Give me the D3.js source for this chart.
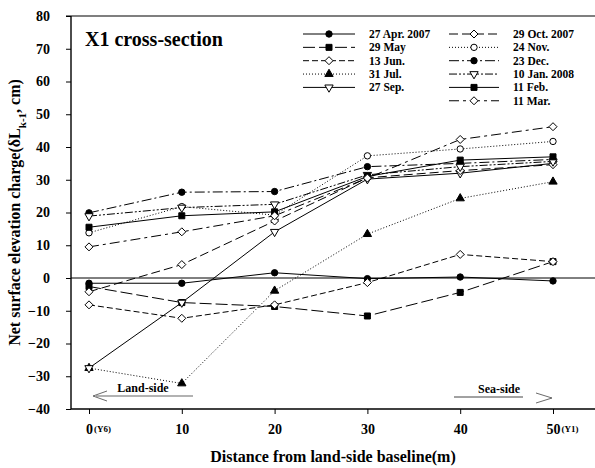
<!DOCTYPE html>
<html>
<head>
<meta charset="utf-8">
<script src="https://cdn.jsdelivr.net/npm/d3@7"></script>
<style>
  body { margin: 0; background: #fff; }
  svg { display: block; }
  text { font-family: "Liberation Serif", "Times New Roman", serif; font-weight: bold; fill: #000; }
</style>
</head>
<body>
<div id="chart"></div>
<script>
// distances along the X1 cross-section (m)
const distances = [0, 10, 20, 30, 40, 50];
const yTicks = [-40, -30, -20, -10, 0, 10, 20, 30, 40, 50, 60, 70, 80];

// net surface elevation change (cm), one array per survey date
const apr27 = [-1.6, -1.6, 1.6, -0.2, 0.3, -0.9];
const may29 = [-2.6, -7.5, -8.7, -11.6, -4.4, 5.0];
const jun13 = [-8.2, -12.3, -8.2, -1.4, 7.2, 5.0];
const jul31 = [-27.5, -32.2, -3.9, 13.4, 24.3, 29.4];
const sep27 = [-27.5, -7.5, 14.1, 30.2, 32.0, 35.0];
const oct29 = [-4.2, 4.1, 17.4, 30.6, 32.8, 34.6];
const nov24 = [13.8, 21.8, 19.2, 37.3, 39.4, 41.7];
const dec23 = [19.9, 26.2, 26.4, 34.0, 35.0, 36.2];
const jan10 = [18.9, 21.5, 22.5, 31.5, 34.0, 35.6];
const feb11 = [15.5, 19.0, 20.2, 31.0, 36.0, 37.0];
const mar11 = [9.5, 14.1, 19.0, 30.5, 42.3, 46.2];

const dateLabels = ["27 Apr. 2007", "29 May", "13 Jun.", "31 Jul.", "27 Sep.",
  "29 Oct. 2007", "24 Nov.", "23 Dec.", "10 Jan. 2008", "11 Feb.", "11 Mar."];
const seriesValues = [apr27, may29, jun13, jul31, sep27, oct29, nov24, dec23, jan10, feb11, mar11];

// line dash + marker for each date (legend order)
const styles = [
  { dash: null, mark: "circle", fill: true },
  { dash: "12,4", mark: "square", fill: true },
  { dash: "6,3", mark: "diamond", fill: false },
  { dash: "1,2", mark: "triangle", fill: true },
  { dash: null, mark: "tridown", fill: false },
  { dash: "9,4", mark: "diamond", fill: false },
  { dash: "1,2", mark: "circle", fill: false },
  { dash: "10,3,2,3", mark: "circle", fill: true },
  { dash: "8,2,2,2,2,2", mark: "tridown", fill: false },
  { dash: null, mark: "square", fill: true },
  { dash: "10,4,3,4", mark: "diamond", fill: false }
];

const W = 595, H = 468;
const plotLeft = 71, plotRight = 595, plotTop = 16, plotBottom = 409;

const svg = d3.select("#chart").append("svg").attr("width", W).attr("height", H);

const x = d3.scaleLinear().domain([0, 50]).range([89, 553]);
const y = d3.scaleLinear().domain([-40, 80]).range([plotBottom, plotTop]);

// square diamond (equal diagonals), like the original plot's marker
const squareDiamond = {
  draw: function (ctx, size) {
    var r = Math.sqrt(size / 2);
    ctx.moveTo(0, -r); ctx.lineTo(r, 0); ctx.lineTo(0, r); ctx.lineTo(-r, 0); ctx.closePath();
  }
};

function symbolFor(m) {
  var s = { circle: d3.symbolCircle, square: d3.symbolSquare, diamond: squareDiamond,
    triangle: d3.symbolTriangle, tridown: d3.symbolTriangle }[m];
  var size = { circle: 32, square: 36, diamond: 32, triangle: 30, tridown: 30 }[m];
  return d3.symbol().type(s).size(size)();
}

// frame lines
svg.append("line").attr("x1", plotLeft - 5).attr("x2", plotRight).attr("y1", plotTop).attr("y2", plotTop)
  .attr("stroke", "#000").attr("stroke-width", 1.2);
svg.append("line").attr("x1", plotLeft).attr("x2", plotRight).attr("y1", plotBottom).attr("y2", plotBottom)
  .attr("stroke", "#000").attr("stroke-width", 1.4);
svg.append("line").attr("x1", plotLeft).attr("x2", plotLeft).attr("y1", plotTop).attr("y2", plotBottom)
  .attr("stroke", "#000").attr("stroke-width", 1.4);
// zero line
svg.append("line").attr("x1", plotLeft).attr("x2", plotRight).attr("y1", y(0)).attr("y2", y(0))
  .attr("stroke", "#000").attr("stroke-width", 1);

// y axis
const yAxis = svg.append("g").attr("transform", `translate(${plotLeft},0)`)
  .call(d3.axisLeft(y).tickValues(yTicks).tickSize(5).tickPadding(16).tickFormat(d3.format("d")));
yAxis.select(".domain").remove();
yAxis.selectAll("text").style("font-size", "14px").style("font-family", "Liberation Serif").style("font-weight", "bold");

// x axis
const xAxis = svg.append("g").attr("transform", `translate(0,${plotBottom})`)
  .call(d3.axisBottom(x).tickValues(distances).tickSize(5).tickPadding(10).tickFormat(d3.format("d")));
xAxis.select(".domain").remove();
xAxis.selectAll("text").style("font-size", "14px").style("font-family", "Liberation Serif").style("font-weight", "bold");
const suffix = { 0: "(Y6)", 50: "(Y1)" };
xAxis.selectAll(".tick").each(function (d) {
  if (!suffix[d]) return;
  var t = d3.select(this).select("text");
  var w = t.node().getComputedTextLength();
  d3.select(this).append("text")
    .attr("x", w / 2 + 1).attr("y", t.attr("y")).attr("dy", "0.85em")
    .attr("text-anchor", "start").attr("fill", "#000")
    .style("font-size", "9px").text(suffix[d]);
});

// series lines and markers
const line = d3.line().x((d, i) => x(distances[i])).y(d => y(d));
seriesValues.forEach(function (vals, k) {
  var st = styles[k];
  svg.append("path").datum(vals).attr("d", line)
    .attr("fill", "none").attr("stroke", "#000").attr("stroke-width", 1)
    .attr("stroke-dasharray", st.dash);
});
seriesValues.forEach(function (vals, k) {
  var st = styles[k];
  svg.append("g").selectAll("path").data(vals).enter().append("path")
    .attr("d", symbolFor(st.mark))
    .attr("transform", (d, i) => `translate(${x(distances[i])},${y(d)})` + (st.mark === "tridown" ? " rotate(180)" : ""))
    .attr("fill", st.fill ? "#000" : "#fff").attr("stroke", "#000").attr("stroke-width", 1);
});

// legend
const legendRows = dateLabels.map((label, i) => ({
  label: label, style: styles[i],
  col: i < 5 ? 0 : 1, row: i < 5 ? i : i - 5
}));
const colX = [303, 449], colW = [52, 50], textX = [369, 513];
const legend = svg.append("g").selectAll("g").data(legendRows).enter().append("g")
  .attr("transform", d => `translate(0,${34 + d.row * 13.35})`);
legend.append("line")
  .attr("x1", d => colX[d.col]).attr("x2", d => colX[d.col] + colW[d.col])
  .attr("stroke", "#000").attr("stroke-width", 1)
  .attr("stroke-dasharray", d => d.style.dash);
legend.append("path")
  .attr("d", d => symbolFor(d.style.mark))
  .attr("transform", d => `translate(${colX[d.col] + colW[d.col] / 2},0)` + (d.style.mark === "tridown" ? " rotate(180)" : ""))
  .attr("fill", d => d.style.fill ? "#000" : "#fff").attr("stroke", "#000");
legend.append("text")
  .attr("x", d => textX[d.col]).attr("dy", "0.35em")
  .style("font-size", "11.5px").text(d => d.label);

// title inside plot
svg.append("text").attr("x", 85).attr("y", 46).style("font-size", "20px").text("X1 cross-section");

// land-side / sea-side annotations
svg.append("text").attr("x", 143).attr("y", 392).attr("text-anchor", "middle").style("font-size", "12px").text("Land-side");
svg.append("line").attr("x1", 96).attr("x2", 193).attr("y1", 396).attr("y2", 396).attr("stroke", "#666").attr("stroke-width", 1.2);
svg.append("path").attr("d", "M107,391 L93,396 L107,401").attr("fill", "none").attr("stroke", "#444").attr("stroke-width", 0.8);
svg.append("text").attr("x", 499).attr("y", 393).attr("text-anchor", "middle").style("font-size", "12px").text("Sea-side");
svg.append("line").attr("x1", 454).attr("x2", 523).attr("y1", 397).attr("y2", 397).attr("stroke", "#444").attr("stroke-width", 1);
svg.append("path").attr("d", "M536,393 L552,398 L536,403").attr("fill", "none").attr("stroke", "#444").attr("stroke-width", 0.8);

// axis titles
svg.append("text").attr("x", 333).attr("y", 462).attr("text-anchor", "middle")
  .style("font-size", "16px").text("Distance from land-side baseline(m)");
const yt = svg.append("text").attr("transform", `translate(20,${(plotTop + plotBottom) / 2}) rotate(-90)`)
  .attr("text-anchor", "middle").style("font-size", "16px");
yt.append("tspan").text("Net surface elevation charge(δL");
yt.append("tspan").attr("baseline-shift", "sub").style("font-size", "11px").text("k-1");
yt.append("tspan").text(", cm)");
</script>
</body>
</html>
